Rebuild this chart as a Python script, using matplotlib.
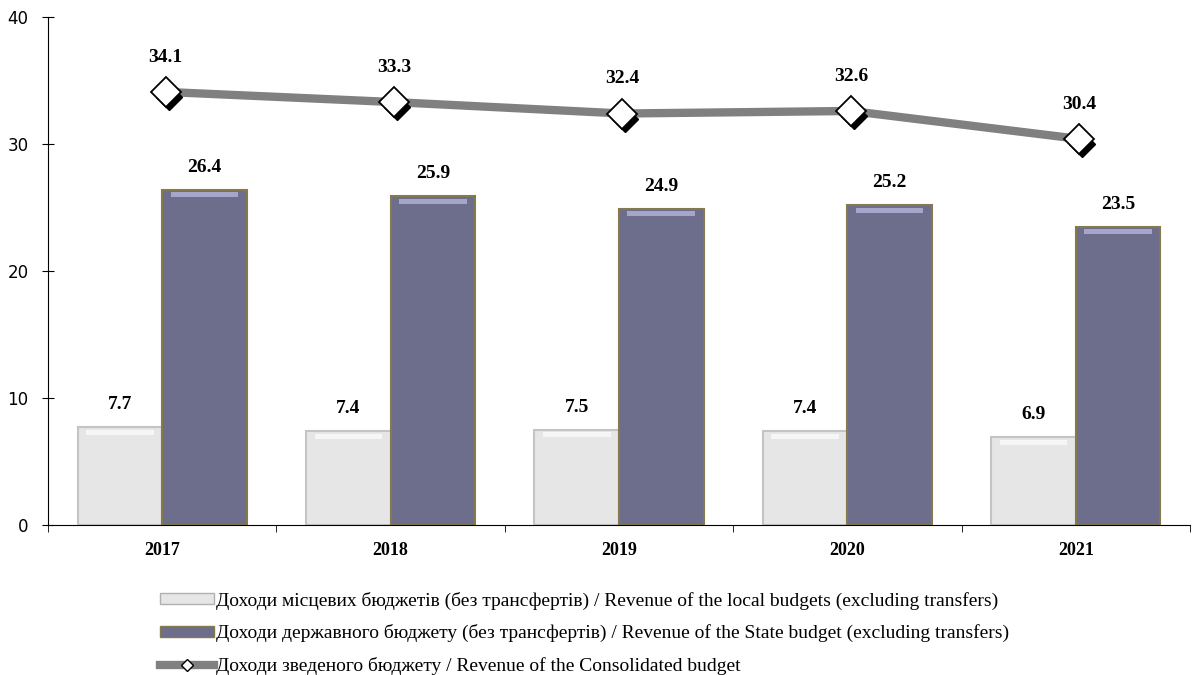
import matplotlib.pyplot as plt
import matplotlib.transforms as mtransforms
from matplotlib.patches import Patch
from matplotlib.lines import Line2D
import numpy as np

years = ['2017', '2018', '2019', '2020', '2021']
local_rev = [7.7, 7.4, 7.5, 7.4, 6.9]
state_rev = [26.4, 25.9, 24.9, 25.2, 23.5]
consolidated_rev = [34.1, 33.3, 32.4, 32.6, 30.4]

labels = ['Доходи місцевих бюджетів (без трансфертів) / Revenue of the local budgets (excluding transfers)',
          'Доходи державного бюджету (без трансфертів) / Revenue of the State budget (excluding transfers)',
          'Доходи зведеного бюджету / Revenue of the Consolidated budget']

serif = 'Liberation Serif'

fig = plt.figure(figsize=(11.92, 6.75), dpi=100)
ax = fig.add_axes([48 / 1192, 1 - 525 / 675, 1142 / 1192, 508 / 675])

x = np.arange(len(years))
w = 0.37

ax.bar(x - w / 2, local_rev, w, color='#e6e6e6', edgecolor='#c4c4c4', linewidth=1.5, zorder=2)
ax.bar(x + w / 2, state_rev, w, color='#6d6d8c', edgecolor='#857a4e', linewidth=1.5, zorder=2)
# bevel highlights on top of the bars
ax.bar(x - w / 2, [0.4] * len(x), w * 0.8, bottom=np.array(local_rev) - 0.6, color='#f6f6f6', zorder=3)
ax.bar(x + w / 2, [0.4] * len(x), w * 0.8, bottom=np.array(state_rev) - 0.6, color='#a6a6cc', zorder=3)

for xi, v in zip(x - w / 2, local_rev):
    ax.annotate(f'{v}', (xi, v), xytext=(0, 10), textcoords='offset points', ha='center', va='bottom',
                fontsize=14, fontweight='bold', family=serif)
for xi, v in zip(x + w / 2, state_rev):
    ax.annotate(f'{v}', (xi, v), xytext=(0, 10), textcoords='offset points', ha='center', va='bottom',
                fontsize=14, fontweight='bold', family=serif)

xl = x + 0.015
ax.plot(xl, consolidated_rev, color='#808080', linewidth=6, solid_capstyle='butt', zorder=4)
shadow = ax.transData + mtransforms.ScaledTranslation(3 / 100, -5 / 100, fig.dpi_scale_trans)
ax.plot(xl, consolidated_rev, linestyle='none', marker='D', markersize=13, color='black', transform=shadow, zorder=5)
ax.plot(xl, consolidated_rev, linestyle='none', marker='D', markersize=15, markerfacecolor='white',
        markeredgecolor='black', markeredgewidth=1.3, zorder=6)
for xi, v in zip(xl, consolidated_rev):
    ax.annotate(f'{v}', (xi, v), xytext=(0, 19), textcoords='offset points', ha='center', va='bottom',
                fontsize=14, fontweight='bold', family=serif)

ax.set_xlim(-0.5, len(years) - 0.5)
ax.set_ylim(0, 40)
ax.set_yticks([0, 10, 20, 30, 40])
ax.set_xticks(x)
ax.set_xticklabels(years, fontsize=13, fontweight='bold', family=serif)
ax.set_xticks(np.arange(len(years) + 1) - 0.5, minor=True)
ax.tick_params(axis='x', which='major', length=0, pad=12)
ax.tick_params(axis='x', which='minor', length=5, direction='out')
ax.tick_params(axis='y', length=8, direction='inout', labelsize=12, pad=10)
for s in ['top', 'right']:
    ax.spines[s].set_visible(False)

handles = [Patch(facecolor='#e6e6e6', edgecolor='#b0b0b0'),
           Patch(facecolor='#6d6d8c', edgecolor='#857a4e'),
           Line2D([], [], color='#808080', linewidth=6, marker='D', markersize=6,
                  markerfacecolor='white', markeredgecolor='black')]
fig.legend(handles, labels, loc='upper left', bbox_to_anchor=(0.128, 0.135), frameon=False,
           prop={'family': serif, 'size': 14}, handlelength=2.75, handleheight=0.5,
           handletextpad=0.1, labelspacing=0.75, borderaxespad=0)

fig.savefig('out.png', dpi=100)
